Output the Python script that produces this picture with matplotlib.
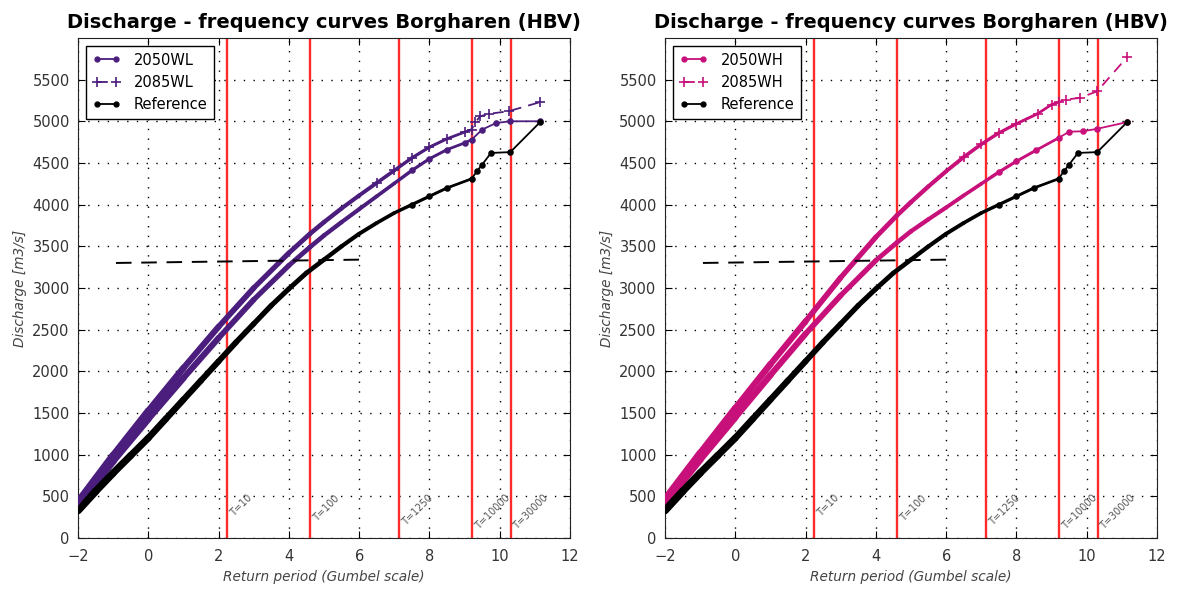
import numpy as np
import matplotlib
matplotlib.use('Agg')
import matplotlib.pyplot as plt
from matplotlib.collections import LineCollection
from matplotlib.lines import Line2D


# 参考曲线 (Gumbel 约化变量, 流量 m3/s)
ref_x = [-2, -1.5, -1, -0.5, 0, 0.5, 1, 1.5, 2, 2.5, 3, 3.5, 4, 4.5, 5, 5.5, 6,
         6.5, 7, 7.5, 8, 8.5, 9.2, 9.35, 9.5, 9.75, 10.3, 11.15]
ref_q = [330, 560, 780, 990, 1200, 1430, 1660, 1890, 2120, 2350, 2570, 2790, 2990,
         3180, 3340, 3500, 3650, 3780, 3900, 4000, 4100, 4200, 4310, 4400, 4480,
         4620, 4630, 4990]

# WL 情景
wl2050_x = [-2, -1, 0, 1, 2, 3, 4, 4.6, 5, 5.5, 6, 6.5, 7, 7.5, 8, 8.5, 9.0, 9.2,
            9.5, 9.9, 10.3, 11.15]
wl2050_q = [400, 925, 1430, 1920, 2400, 2860, 3270, 3490, 3630, 3790, 3945, 4100,
            4255, 4410, 4550, 4660, 4740, 4780, 4900, 4980, 5000, 5000]
wl2085_x = [-2, -1, 0, 1, 2, 3, 4, 4.6, 5, 5.5, 6, 6.5, 7, 7.5, 8, 8.5, 9.0, 9.2,
            9.3, 9.45, 9.7, 10.25, 11.15]
wl2085_q = [430, 990, 1525, 2040, 2535, 3000, 3420, 3650, 3790, 3955, 4110, 4260,
            4410, 4560, 4690, 4790, 4870, 4900, 4990, 5060, 5090, 5120, 5230]

# WH 情景
wh2050_x = [-2, -1, 0, 1, 2, 3, 4, 4.6, 5, 5.5, 6, 6.5, 7, 7.5, 8, 8.55, 9.2,
            9.5, 9.9, 10.3, 11.15]
wh2050_q = [420, 945, 1450, 1955, 2450, 2910, 3330, 3545, 3680, 3825, 3965, 4110,
            4250, 4390, 4520, 4650, 4800, 4875, 4880, 4910, 4990]
wh2085_x = [-2, -1, 0, 1, 2, 3, 4, 4.6, 5, 5.5, 6, 6.5, 7, 7.5, 8, 8.6, 9.0, 9.2,
            9.4, 9.8, 10.3, 11.15]
wh2085_q = [460, 1015, 1555, 2085, 2600, 3125, 3610, 3870, 4030, 4220, 4400, 4570,
            4725, 4860, 4970, 5090, 5200, 5230, 5260, 5280, 5360, 5770]

# 重现期 T 及其 Gumbel 位置
T_labels = ['T=10', 'T=100', 'T=1250', 'T=10000', 'T=30000']
T_years = [10, 100, 1250, 10000, 30000]

# 设计流量水平线
level_x = [-0.92, 6.05]
level_q = [3300, 3340]

DENSE_END = 9.2


def draw_band(ax, x, y, color):
    """密集点段画成由粗变细的带"""
    x = np.asarray(x, float)
    y = np.asarray(y, float)
    keep = x <= DENSE_END
    xs, ys = x[keep], y[keep]
    pts = np.column_stack([xs, ys]).reshape(-1, 1, 2)
    segs = np.concatenate([pts[:-1], pts[1:]], axis=1)
    mid = (xs[:-1] + xs[1:]) / 2
    widths = np.interp(mid, [-2, DENSE_END], [5.6, 1.8])
    lc = LineCollection(segs, colors=color, linewidths=widths, capstyle='round',
                        joinstyle='round', zorder=3)
    ax.add_collection(lc)


def draw_series(ax, x, y, color, ls, marker, ms, mark_from):
    """细线 + 稀疏段的标记点"""
    x = np.asarray(x, float)
    y = np.asarray(y, float)
    kw = dict(ls=ls, lw=1.3, color=color, zorder=4)
    if ls == '--':
        kw['dashes'] = (6, 4)
    ax.plot(x, y, **kw)
    tail = x >= mark_from
    ax.plot(x[tail], y[tail], ls='none', marker=marker, ms=ms, mew=1.2,
            color=color, zorder=4)


def plot_panel(ax, title, lab_lo, x_lo, q_lo, lab_hi, x_hi, q_hi, color):
    for xv, lab in zip(-np.log(-np.log(1 - 1 / np.array(T_years))), T_labels):
        ax.axvline(xv, color='#ff2a2a', lw=1.7, zorder=2)
        ax.text(xv + 0.03, 540, lab, rotation=45, ha='left', va='top',
                fontsize=7, color='#555555', zorder=6)

    draw_band(ax, x_lo, q_lo, color)
    draw_band(ax, x_hi, q_hi, color)
    draw_band(ax, ref_x, ref_q, 'black')

    draw_series(ax, x_lo, q_lo, color, '-', 'o', 3.5, 7.5)
    draw_series(ax, x_hi, q_hi, color, '--', '+', 7, 6.5)
    draw_series(ax, ref_x, ref_q, 'black', '-', 'o', 3.5, 7.5)

    ax.plot(level_x, level_q, '--', color='black', lw=1.4, dashes=(8, 5), zorder=5)

    ax.set_xlim(-2, 12)
    ax.set_ylim(0, 6000)
    ax.set_xticks(range(-2, 13, 2))
    ax.set_yticks(range(0, 5501, 500))
    ax.grid(True, color='black', linestyle=(0, (1, 6)), lw=1)
    ax.tick_params(direction='in', top=True, right=True, length=5,
                   labelsize=10.5, labelcolor='#333333')
    ax.tick_params(axis='x', pad=8)
    ax.tick_params(axis='y', pad=6)
    ax.set_title(title, fontsize=14, fontweight='bold', pad=7)
    ax.set_xlabel('Return period (Gumbel scale)', fontsize=9.8, style='italic',
                  color='#444444', labelpad=4)
    ax.set_ylabel('Discharge [m3/s]', fontsize=9.8, style='italic',
                  color='#444444', labelpad=4)

    handles = [
        Line2D([], [], color=color, ls='-', lw=1.3, marker='o', ms=3.5),
        Line2D([], [], color=color, ls='--', dashes=(6, 4), lw=1.3, marker='+',
               ms=7, mew=1.2),
        Line2D([], [], color='black', ls='-', lw=1.3, marker='o', ms=3.5),
    ]
    leg = ax.legend(handles, [lab_lo, lab_hi, 'Reference'], loc='upper left',
                    numpoints=2, fancybox=False, framealpha=1, edgecolor='black',
                    fontsize=10.5, borderaxespad=0.55, handlelength=1.9,
                    handletextpad=0.9, borderpad=0.45, labelspacing=0.5)
    leg.get_frame().set_linewidth(1)
    for sp in ax.spines.values():
        sp.set_color('#222222')


fig = plt.figure(figsize=(11.77, 5.89), dpi=100)
ax1 = fig.add_axes([0.0663, 0.0866, 0.418, 0.849])
ax2 = fig.add_axes([0.565, 0.0866, 0.418, 0.849])

plot_panel(ax1, 'Discharge - frequency curves Borgharen (HBV)',
           '2050WL', wl2050_x, wl2050_q, '2085WL', wl2085_x, wl2085_q, '#4b1d7d')
plot_panel(ax2, 'Discharge - frequency curves Borgharen (HBV)',
           '2050WH', wh2050_x, wh2050_q, '2085WH', wh2085_x, wh2085_q, '#c8107a')

fig.savefig('out.png', dpi=100)
